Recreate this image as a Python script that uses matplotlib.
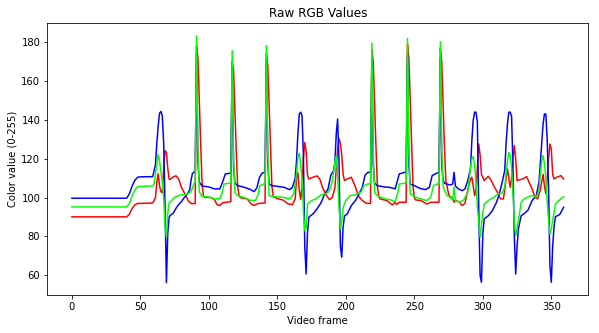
import matplotlib
matplotlib.use("Agg")
import matplotlib.pyplot as plt

# Mean channel value per video frame, as (frame, value) samples
red_points = [
    (0, 90.1), (40, 90.1), (42, 91.5), (44, 94.5), (46, 96.3), (48, 97), (59, 97.2), (61, 100), (62, 108),
    (63, 112.3), (64, 106), (65, 103), (66, 102.6), (67, 115), (68, 124.2), (69, 123.4), (70, 115), (71, 109.5),
    (72, 109.4), (74, 110.7), (76, 111.2), (78, 109.5), (80, 105.2), (83, 101.2), (85, 98.3), (87, 97), (90, 96.9),
    (91, 178), (92, 172), (93, 150), (94, 128), (95, 108), (96, 101), (97, 100.2), (102, 100), (104, 99),
    (106, 96.4), (108, 95.9), (110, 97.4), (116, 97.9),
    (117, 170), (118, 166), (119, 145), (120, 124), (121, 106), (122, 101), (123, 100), (128, 99.3), (131, 96.6),
    (133, 96), (136, 97), (141, 97.2),
    (142, 174), (143, 168), (144, 147), (145, 125), (146, 106), (147, 100.5), (150, 99.5), (154, 98.8), (158, 96.7),
    (161, 96.4), (163, 99.3), (164, 110), (165, 112.8), (166, 104), (167, 99), (168, 105), (169, 120), (170, 128.4),
    (171, 124), (172, 111.5), (173, 109.6), (176, 110.5), (179, 111.2), (181, 109.5), (183, 105.2), (186, 100.9),
    (188, 99), (190, 100), (192, 105), (193, 115), (194, 125), (195, 130.4), (196, 128), (197, 122), (198, 112),
    (199, 108.8), (201, 109.6), (204, 110.5), (207, 105.5), (209, 101), (212, 98.5), (215, 97.1), (218, 97),
    (219, 176), (220, 170), (221, 148), (222, 126), (223, 106), (224, 100.5), (225, 99.3), (230, 98.5), (234, 96.2),
    (236, 97.6), (237, 96.4), (239, 97.6), (244, 97.6),
    (245, 179), (246, 172), (247, 150), (248, 128), (249, 106), (250, 100), (251, 98.8), (255, 98.5), (259, 96.7),
    (262, 97.6), (268, 97.6),
    (269, 177), (270, 170), (271, 148), (272, 126), (273, 108.8), (275, 101.9), (276, 100.5), (278, 99.7),
    (279, 97.6), (280, 98.8), (283, 97.6), (285, 95.9), (287, 97.1), (289, 104), (291, 109.5), (292, 110.5),
    (293, 106), (294, 101), (295, 104), (296, 115), (297, 127.6), (298, 122), (299, 112), (301, 108.8), (304, 111),
    (306, 109), (308, 106), (310, 103.6), (313, 99.3), (315, 99.3), (316, 104), (317, 110), (318, 114.8), (319, 110),
    (320, 105.3), (321, 110), (322, 120), (323, 126.8), (324, 120), (325, 108.8), (329, 109.6), (332, 110.8),
    (334, 107.5), (336, 104.5), (338, 100.2), (340, 99.4), (342, 104), (343, 108), (344, 112), (345, 106),
    (346, 102), (347, 110), (348, 120), (349, 127.6), (350, 125), (351, 112), (352, 109.6), (354, 110.5),
    (357, 111.3), (359, 109.6),
]

green_points = [
    (0, 95.2), (40, 95.2), (42, 97), (44, 101), (46, 104), (48, 105.7), (59, 106), (60, 107), (61, 112), (62, 118),
    (63, 122), (64, 119), (65, 113), (66, 108), (67, 100), (68, 85), (69, 79.6), (70, 92), (71, 97.3), (73, 98.6),
    (75, 100.2), (79, 101.3), (84, 101.7), (87, 103), (88, 105), (89, 107), (90, 108),
    (91, 183.4), (92, 125), (93, 103), (95, 100.7), (100, 100.3), (104, 99.3), (108, 99.5), (110, 103), (111, 107),
    (115, 107.4), (116, 107.6),
    (117, 175.7), (118, 122), (119, 102.5), (121, 101), (126, 100), (130, 98.7), (134, 98.5), (136, 101.7),
    (137, 106), (140, 107), (141, 107.2),
    (142, 178.3), (143, 124), (144, 101), (148, 100.5), (154, 100.2), (159, 99.3), (162, 101.9), (164, 112.2),
    (165, 121), (166, 122.8), (167, 117), (168, 110), (169, 93.3), (170, 83), (171, 84.7), (172, 96.7), (175, 98.5),
    (178, 99.3), (182, 101.4), (186, 102.2), (188, 103.6), (190, 108), (192, 118), (193, 121.6), (194, 112.2),
    (195, 95), (196, 84), (197, 88), (198, 95), (200, 98.5), (203, 101), (207, 101.4), (211, 102.7), (213, 106),
    (216, 107), (218, 107.2),
    (219, 179.5), (220, 124), (221, 102.5), (223, 101), (229, 99.3), (233, 98.8), (236, 97.9), (238, 102.7),
    (239, 107), (243, 107.4), (244, 107.6),
    (245, 182), (246, 125), (247, 101.9), (251, 100.2), (255, 99.3), (259, 98.5), (262, 100.2), (264, 106.2),
    (267, 107), (268, 107.3),
    (269, 180.3), (270, 125), (271, 106), (272, 103.6), (274, 101), (276, 100.2), (278, 98.8), (279, 105.5),
    (280, 98.5), (283, 97.6), (286, 98.8), (289, 102.7), (291, 115.6), (292, 120), (293, 121.1), (294, 117.3),
    (295, 108), (296, 95), (297, 88), (298, 79.6), (299, 86), (300, 91.6), (301, 96.7), (304, 98.5), (308, 100.2),
    (311, 101.9), (314, 102.2), (316, 105.3), (317, 112), (318, 119), (319, 123.3), (320, 122), (321, 115),
    (322, 101.9), (323, 88), (324, 80.4), (325, 84), (326, 88.2), (328, 97.6), (330, 99.3), (335, 101), (337, 101),
    (339, 100.2), (341, 103.6), (342, 112), (343, 119), (344, 121.6), (345, 117.3), (346, 110), (347, 98.5),
    (348, 88), (349, 81.3), (350, 84), (351, 88.2), (353, 96.7), (356, 98.8), (359, 100.5),
]

blue_points = [
    (0, 99.7), (40, 99.7), (42, 102), (44, 106), (46, 109), (48, 110.5), (50, 110.7), (59, 110.8), (61, 117),
    (62, 128), (63, 137), (64, 143.5), (65, 144.4), (66, 142), (67, 128), (68, 95), (69, 56.2), (70, 82), (71, 90),
    (72, 91), (74, 92), (76, 94.5), (78, 96.5), (80, 98), (82, 100), (84, 101.5), (86, 104), (87, 109), (88, 112.5),
    (89, 113), (90, 113.5),
    (91, 175), (92, 118), (93, 108), (95, 106), (100, 105.5), (104, 104.5), (108, 104.5), (110, 108), (112, 112.2),
    (115, 112.5), (116, 112.8),
    (117, 168), (118, 116), (119, 107.5), (121, 106.2), (125, 105.5), (130, 104.3), (133, 103.1), (135, 105),
    (137, 110.5), (139, 112.7), (141, 113),
    (142, 171), (143, 117), (144, 107), (146, 106.2), (150, 105.8), (155, 105.3), (159, 104.1), (161, 105.3),
    (163, 110), (164, 119), (165, 133), (166, 143), (167, 144), (168, 142.2), (169, 122), (170, 75), (171, 60.7),
    (172, 82), (173, 90), (176, 91.6), (179, 94.2), (182, 97.5), (184, 101), (187, 104.5), (189, 111.5),
    (191, 113.9), (192, 118), (193, 133), (194, 140.5), (195, 118), (196, 75), (197, 69.3), (198, 84.8), (199, 90.5),
    (201, 91.6), (204, 95.9), (207, 98.5), (209, 101), (212, 105.3), (214, 111.5), (216, 113), (218, 113),
    (219, 171), (220, 117), (221, 107.5), (223, 106.2), (228, 105.5), (232, 105.3), (236, 104.5), (237, 107),
    (239, 112.2), (243, 113), (244, 113.2),
    (245, 174), (246, 117), (247, 107), (250, 106.2), (254, 104.8), (258, 104.1), (261, 105.3), (263, 111.3),
    (266, 112.5), (268, 113),
    (269, 172), (270, 117), (271, 109), (272, 107.4), (276, 106.5), (278, 107), (279, 113), (280, 106), (282, 104.5),
    (285, 103.6), (287, 104.5), (289, 108.8), (291, 115), (292, 129.4), (293, 140), (294, 144), (295, 144),
    (296, 139), (297, 95), (298, 60), (299, 56.4), (300, 81.3), (301, 89), (304, 90.7), (307, 93.3), (310, 97.6),
    (312, 101.9), (314, 107.5), (316, 114), (317, 128), (318, 138), (319, 144), (320, 144), (321, 142),
    (322, 115.6), (323, 80), (324, 60.7), (325, 75), (326, 84), (328, 90.7), (330, 91.6), (333, 93.6), (336, 98.5),
    (339, 101), (341, 107.9), (342, 118), (343, 127.6), (344, 138), (345, 143.1), (346, 143), (347, 130),
    (348, 105), (349, 65), (350, 56.4), (351, 75), (352, 85), (353, 90.2), (356, 91.2), (357, 92.4), (359, 95),
]

fig, ax = plt.subplots(figsize=(599 / 72, 333 / 72), dpi=72)
fig.subplots_adjust(left=0.079, right=0.982, bottom=0.114, top=0.930)

# green goes last so it sits on top of the other two at the spikes
for points, colour in [(red_points, 'red'), (blue_points, 'blue'), (green_points, 'lime')]:
    frames, values = zip(*points)
    ax.plot(frames, values, color=colour)

ax.set_title("Raw RGB Values")
ax.set_xlabel("Video frame")
ax.set_ylabel("Color value (0-255)")

fig.savefig("out.png", dpi=72)
